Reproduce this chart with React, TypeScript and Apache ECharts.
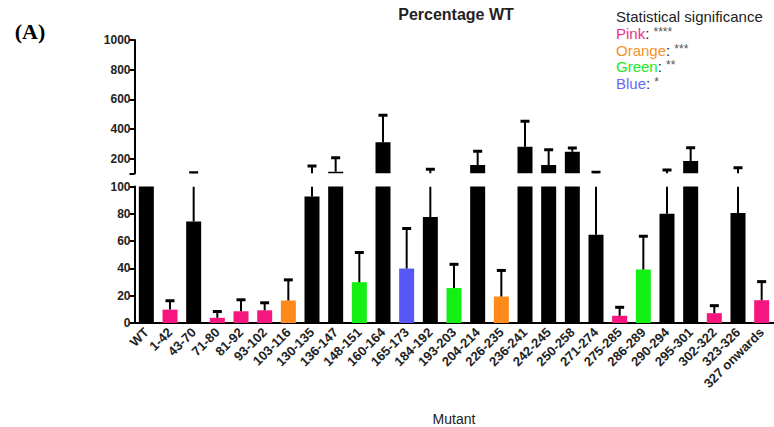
import React, { useEffect, useRef } from "react";
import * as echarts from "echarts";

const categories = [
  "WT", "1-42", "43-70", "71-80", "81-92", "93-102", "103-116", "130-135", "136-147",
  "148-151", "160-164", "165-173", "184-192", "193-203", "204-214", "226-235", "236-241",
  "242-245", "250-258", "271-274", "275-285", "286-289", "290-294", "295-301", "302-322",
  "323-326", "327 onwards",
];
const values = [
  100, 9.8, 74.4, 3.8, 8.6, 9.3, 16.5, 92.6, 112, 29.9, 310, 39.9, 77.7, 25.6, 157, 19.4,
  281, 157, 247, 64.7, 5.3, 39.2, 80, 184, 7.2, 80.5, 16.7,
];
const errorTops: (number | null)[] = [
  null, 16.3, 105, 8.4, 17, 14.8, 31.6, 150, 206, 51.6, 492, 69.3, 128, 43, 250, 38.5,
  452, 260, 272, 108, 11.5, 63.6, 123.6, 274, 12.7, 139, 30.3,
];
const significance = [
  "ns", "****", "ns", "****", "****", "****", "***", "ns", "ns", "**", "ns", "*", "ns", "**",
  "ns", "***", "ns", "ns", "ns", "ns", "****", "**", "ns", "ns", "****", "ns", "****",
];
const lowerTicks = [0, 20, 40, 60, 80, 100];
const upperLabels = [200, 400, 600, 800, 1000];
const BREAK = 100;

const sigColors: Record<string, string> = {
  ns: "#000000",
  "****": "#f5167f",
  "***": "#ff8a1c",
  "**": "#14ef14",
  "*": "#5757f5",
};

const FONT = "'Liberation Sans', Arial, sans-serif";

export default function App() {
  const ref = useRef<HTMLDivElement>(null);
  useEffect(() => {
    document.body.style.margin = "0";
    if (!ref.current) return;
    const chart = echarts.init(ref.current, null, { renderer: "svg" });
    const BAR_W = 15;
    const CAP_W = 9;

    const barData = values.map((v, i) => ({
      value: Math.min(v, BREAK),
      itemStyle: { color: sigColors[significance[i]] },
    }));
    const upperData = values
      .map((v, i) => [i, v, 0])
      .filter((d) => d[1] > BREAK);
    const errData = values.map((v, i) => [i, v, errorTops[i] == null ? v : (errorTops[i] as number)]);

    const lowerErr = (params: any, api: any) => {
      const i = api.value(0), v = api.value(1), e = api.value(2);
      if (e <= v || v >= BREAK) return null;
      const p0 = api.coord([i, v]);
      const p1 = api.coord([i, Math.min(e, BREAK)]);
      const children: any[] = [
        { type: "line", shape: { x1: p0[0], y1: p0[1], x2: p1[0], y2: p1[1] }, style: { stroke: "#000", lineWidth: 2 } },
      ];
      if (e <= BREAK) {
        children.push({ type: "line", shape: { x1: p1[0] - CAP_W / 2, y1: p1[1], x2: p1[0] + CAP_W / 2, y2: p1[1] }, style: { stroke: "#000", lineWidth: 3 } });
      }
      return { type: "group", children };
    };
    const upperErr = (params: any, api: any) => {
      const i = api.value(0), v = api.value(1), e = api.value(2);
      if (e <= BREAK || e <= v) return null;
      const p0 = api.coord([i, Math.max(v, BREAK)]);
      const p1 = api.coord([i, e]);
      return {
        type: "group",
        children: [
          { type: "line", shape: { x1: p0[0], y1: p0[1], x2: p1[0], y2: p1[1] }, style: { stroke: "#000", lineWidth: 2 } },
          { type: "line", shape: { x1: p1[0] - CAP_W / 2, y1: p1[1], x2: p1[0] + CAP_W / 2, y2: p1[1] }, style: { stroke: "#000", lineWidth: 3 } },
        ],
      };
    };
    const upperBar = (params: any, api: any) => {
      const i = api.value(0), v = api.value(1);
      const p0 = api.coord([i, BREAK]);
      const p1 = api.coord([i, v]);
      return {
        type: "rect",
        shape: { x: p0[0] - BAR_W / 2, y: p1[1], width: BAR_W, height: p0[1] - p1[1] },
        style: { fill: sigColors[significance[i]] },
      };
    };

    const axisLabelStyle = { color: "#222", fontWeight: "bold", fontSize: 12, fontFamily: FONT };

    const f15 = `15px ${FONT}`;
    const legendRich = {
      k: { fill: "#222", font: f15 },
      s: { fill: "#555", font: `12px ${FONT}`, verticalAlign: "top" as const, padding: [0, 0, 3, 0] },
      pink: { fill: "#f0308a", font: f15 },
      orange: { fill: "#f5922a", font: f15 },
      green: { fill: "#22e822", font: f15 },
      blue: { fill: "#6868f8", font: f15 },
    };

    chart.setOption({
      animation: false,
      backgroundColor: "#fff",
      grid: [
        { left: 134.5, width: 639, top: 186.5, height: 139.5 },
        { left: 134.5, width: 639, top: 40, height: 133.5 },
      ],
      xAxis: [
        {
          type: "category",
          gridIndex: 0,
          data: categories,
          axisLine: { lineStyle: { color: "#000", width: 2 } },
          axisTick: { alignWithLabel: true, length: 5, lineStyle: { color: "#000", width: 2 } },
          axisLabel: { ...axisLabelStyle, fontSize: 13, rotate: 45, margin: 7, interval: 0 },
          name: "Mutant",
          nameLocation: "middle",
          nameGap: 89,
          nameTextStyle: { color: "#222", fontSize: 14, fontFamily: FONT },
        },
        {
          type: "category",
          gridIndex: 1,
          data: categories,
          show: false,
        },
      ],
      yAxis: [
        {
          type: "value",
          gridIndex: 0,
          min: 0,
          max: 100,
          interval: 20,
          axisLine: { show: true, lineStyle: { color: "#000", width: 2 } },
          axisTick: { show: true, length: 5, lineStyle: { color: "#000", width: 2 } },
          axisLabel: { ...axisLabelStyle, margin: 4, customValues: lowerTicks, formatter: (v: number) => String(v) },
          splitLine: { show: false },
        },
        {
          type: "value",
          gridIndex: 1,
          min: 100,
          max: 1000,
          axisLine: { show: true, lineStyle: { color: "#000", width: 2 } },
          axisTick: { show: true, length: 5, lineStyle: { color: "#000", width: 2 }, customValues: [100, ...upperLabels] },
          axisLabel: { ...axisLabelStyle, margin: 4, customValues: upperLabels, formatter: (v: number) => String(v) },
          splitLine: { show: false },
        },
      ],
      series: [
        {
          type: "bar",
          xAxisIndex: 0,
          yAxisIndex: 0,
          data: barData,
          barWidth: BAR_W,
        },
        {
          type: "custom",
          xAxisIndex: 0,
          yAxisIndex: 0,
          data: errData,
          renderItem: lowerErr,
          clip: true,
          z: 3,
        },
        {
          type: "custom",
          xAxisIndex: 1,
          yAxisIndex: 1,
          data: upperData,
          renderItem: upperBar,
          clip: true,
          z: 2,
        },
        {
          type: "custom",
          xAxisIndex: 1,
          yAxisIndex: 1,
          data: errData,
          renderItem: upperErr,
          clip: true,
          z: 3,
        },
      ],
      graphic: [
        {
          type: "text",
          x: 30,
          y: 31,
          style: { text: "(A)", font: "bold 22px 'Liberation Serif', 'Times New Roman', serif", fill: "#000", align: "center", verticalAlign: "middle" },
        },
        {
          type: "text",
          x: 456,
          y: 14,
          style: { text: "Percentage WT", font: `bold 16px ${FONT}`, fill: "#222", align: "center", verticalAlign: "middle" },
        },
        { type: "text", x: 616, y: 16, style: { text: "{k|Statistical significance}", rich: legendRich, verticalAlign: "middle" } },
        { type: "text", x: 616, y: 33, style: { text: "{pink|Pink}{k|: }{s|****}", rich: legendRich, verticalAlign: "middle" } },
        { type: "text", x: 616, y: 50, style: { text: "{orange|Orange}{k|: }{s|***}", rich: legendRich, verticalAlign: "middle" } },
        { type: "text", x: 616, y: 66.5, style: { text: "{green|Green}{k|: }{s|**}", rich: legendRich, verticalAlign: "middle" } },
        { type: "text", x: 616, y: 83, style: { text: "{blue|Blue}{k|: }{s|*}", rich: legendRich, verticalAlign: "middle" } },
      ],
    });
    return () => chart.dispose();
  }, []);
  return <div ref={ref} style={{ width: 774, height: 427 }} />;
}
